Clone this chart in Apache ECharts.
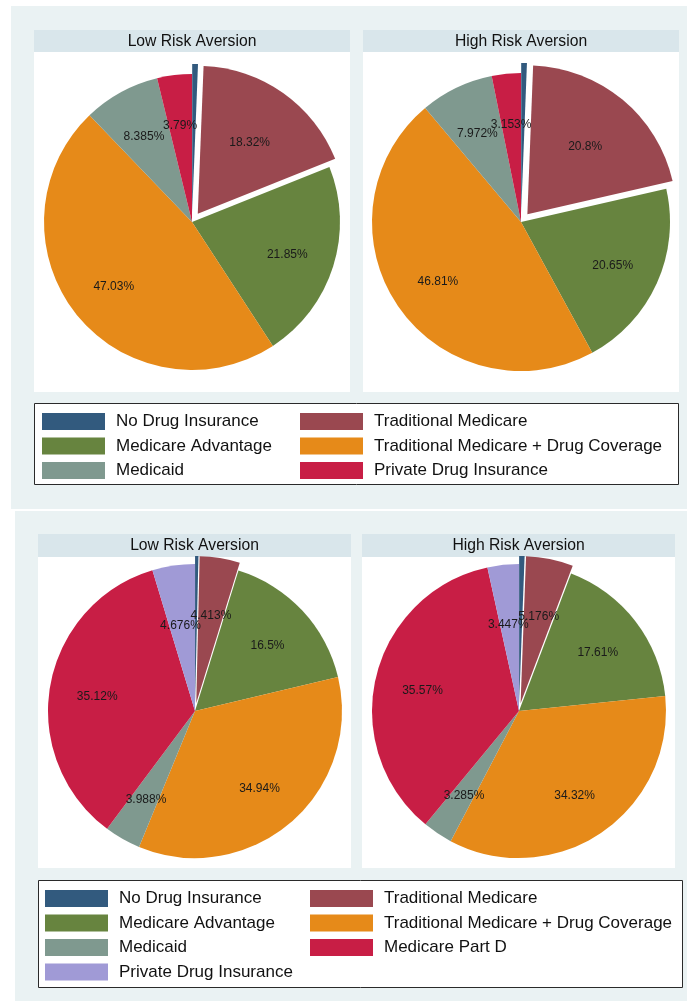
<!DOCTYPE html>
<html>
<head>
<meta charset="utf-8">
<script src="https://cdn.jsdelivr.net/npm/echarts@6/dist/echarts.min.js"></script>
<style>
  body { margin: 0; background: #fff; }
  #top { position: absolute; left: 0; top: 0; width: 687px; height: 510px; }
  #bot { position: absolute; left: 0; top: 510px; width: 687px; height: 491px; }
</style>
</head>
<body>
<div id="top"></div>
<div id="bot"></div>
<script>
const FONT = '"Liberation Sans", Arial, sans-serif'

// upper figure
const namesTop = ['No Drug Insurance', 'Traditional Medicare', 'Medicare Advantage',
  'Traditional Medicare + Drug Coverage', 'Medicaid', 'Private Drug Insurance']
const colorsTop = ['#325a7e', '#9a4850', '#67843f', '#e68a19', '#7f998f', '#c81e45']
const lowTop = [0.625, 18.32, 21.85, 47.03, 8.385, 3.79]
const highTop = [0.615, 20.8, 20.65, 46.81, 7.972, 3.153]

// lower figure
const namesBot = ['No Drug Insurance', 'Traditional Medicare', 'Medicare Advantage',
  'Traditional Medicare + Drug Coverage', 'Medicaid', 'Medicare Part D', 'Private Drug Insurance']
const colorsBot = ['#325a7e', '#9a4850', '#67843f', '#e68a19', '#7f998f', '#c81e45', '#a09ad6']
const lowBot = [0.363, 4.413, 16.5, 34.94, 3.988, 35.12, 4.676]
const highBot = [0.592, 5.176, 17.61, 34.32, 3.285, 35.57, 3.447]

const exploded = ['No Drug Insurance', 'Traditional Medicare']
const panelTitles = ['Low Risk Aversion', 'High Risk Aversion']

// visible pie + a transparent twin that only carries the labels (Stata puts them at ~2/3 r)
const pieSeries = (names, colors, vals, center, r, offset, lastShift) => {
  const data = names.map((n, i) => ({
    name: n,
    value: vals[i],
    selected: exploded.includes(n),
    itemStyle: { color: colors[i] }
  }))
  return [{
    type: 'pie',
    center: center,
    radius: [0, r],
    startAngle: 90,
    clockwise: true,
    selectedMode: 'multiple',
    selectedOffset: offset,
    label: { show: false },
    labelLine: { show: false },
    emphasis: { disabled: true },
    itemStyle: { borderWidth: 0 },
    data: data
  }, {
    type: 'pie',
    center: [center[0], center[1] + 2.5],
    radius: [r * 0.31, r],
    startAngle: 90,
    clockwise: true,
    silent: true,
    legendHoverLink: false,
    avoidLabelOverlap: false,
    labelLayout: { hideOverlap: false },
    itemStyle: { color: 'rgba(0,0,0,0)', borderWidth: 0 },
    label: {
      show: true,
      position: 'inside',
      formatter: p => p.dataIndex === 0 ? '' : p.value + '%',
      fontSize: 12,
      fontFamily: FONT,
      color: '#1a1a1a'
    },
    labelLine: { show: false },
    emphasis: { disabled: true },
    data: names.map((n, i) => {
      const d = { name: n, value: vals[i] }
      // the small slice just left of 12 o'clock sits a bit lower in the original
      if (lastShift && i === names.length - 1) d.label = { offset: [0, lastShift] }
      return d
    })
  }]
}

const legendCol = (data, left, top) => ({
  data: data,
  orient: 'vertical',
  left: left,
  top: top,
  padding: 0,
  icon: 'rect',
  itemWidth: 63,
  itemHeight: 17,
  itemGap: 7.5,
  selectedMode: false,
  textStyle: {
    fontSize: 17,
    fontFamily: FONT,
    color: '#111',
    lineHeight: 17,
    padding: [0, 0, 0, 6]
  }
})

const frame = (panel, plots, titleY, legendBox) => {
  const els = [{
    type: 'rect', shape: panel, style: { fill: '#eaf2f3' }, silent: true
  }]
  plots.forEach((p, i) => {
    els.push({ type: 'rect', shape: { x: p.x, y: p.hy, width: p.w, height: p.y - p.hy }, style: { fill: '#d9e6eb' }, silent: true })
    els.push({ type: 'rect', shape: { x: p.x, y: p.y, width: p.w, height: p.h }, style: { fill: '#fff' }, silent: true })
    els.push({
      type: 'text',
      style: {
        text: panelTitles[i], x: p.x + p.w / 2, y: titleY,
        textAlign: 'center', textVerticalAlign: 'middle',
        font: '15.7px ' + FONT, fill: '#111'
      },
      silent: true
    })
  })
  els.push({ type: 'rect', shape: legendBox, style: { fill: '#fff', stroke: '#2a2a2a', lineWidth: 1 }, silent: true })
  return els
}

const topChart = echarts.init(document.getElementById('top'))
topChart.setOption({
  animation: false,
  graphic: { elements: frame(
    { x: 11, y: 6, width: 676, height: 503 },
    [{ x: 34, hy: 30, y: 52, w: 316, h: 340 }, { x: 363, hy: 30, y: 52, w: 316, h: 340 }],
    41.5,
    { x: 34.5, y: 403.5, width: 644, height: 81 }
  ) },
  legend: [
    legendCol(['No Drug Insurance', 'Medicare Advantage', 'Medicaid'], 42, 413),
    legendCol(['Traditional Medicare', 'Traditional Medicare + Drug Coverage', 'Private Drug Insurance'], 300, 413)
  ],
  series: [
    ...pieSeries(namesTop, colorsTop, lowTop, [192, 222], 148, 10, 0),
    ...pieSeries(namesTop, colorsTop, highTop, [521, 222], 149, 10, 0)
  ]
})

const botChart = echarts.init(document.getElementById('bot'))
botChart.setOption({
  animation: false,
  graphic: { elements: frame(
    { x: 15, y: 1, width: 672, height: 490 },
    [{ x: 38, hy: 24, y: 47, w: 313, h: 311 }, { x: 362, hy: 24, y: 47, w: 313, h: 311 }],
    35.5,
    { x: 38.5, y: 370.5, width: 644, height: 107 }
  ) },
  legend: [
    legendCol(['No Drug Insurance', 'Medicare Advantage', 'Medicaid', 'Private Drug Insurance'], 45, 380),
    legendCol(['Traditional Medicare', 'Traditional Medicare + Drug Coverage', 'Medicare Part D'], 310, 380)
  ],
  series: [
    ...pieSeries(namesBot, colorsBot, lowBot, [195, 201], 147, 8, 10),
    ...pieSeries(namesBot, colorsBot, highBot, [519, 201], 147, 8, 10)
  ]
})
</script>
</body>
</html>
